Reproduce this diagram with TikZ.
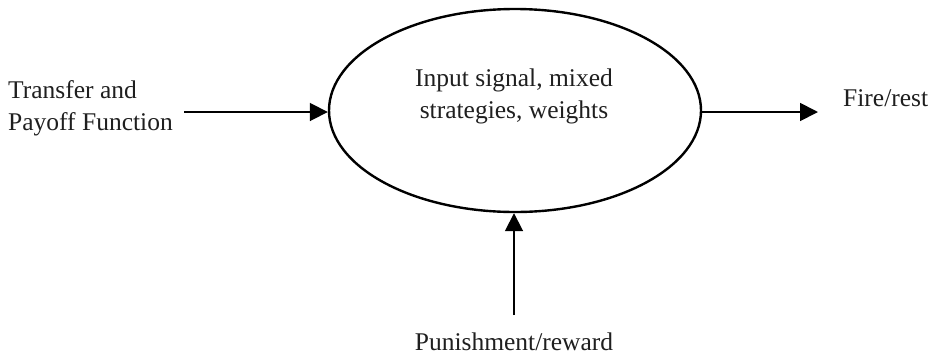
\documentclass[tikz,border=0pt]{standalone}
\usepackage{fontspec}
\setmainfont{Liberation Serif}
\usetikzlibrary{arrows.meta,shapes.geometric}
\begin{document}
\begin{tikzpicture}[x=1pt,y=-1pt,
  lbl/.style={font=\fontsize{25.5}{32}\selectfont, inner sep=0pt, text=black!88},
  oval/.style={ellipse, draw, line width=2.4pt, minimum width=372pt, minimum height=203pt, inner sep=0pt},
  arr/.style={line width=1.8pt, -{Triangle[length=18pt,width=18pt]}}]
\useasboundingbox (0,0) rectangle (934,357);
\node[oval] (e) at (515,110.5) {};
\node[lbl, align=center, anchor=base] (et) at (514,118) {Input signal, mixed\\strategies, weights};
\node[lbl, align=left, anchor=base west] (lt) at (8,130) {Transfer and\\Payoff Function};
\node[lbl, anchor=base west] (rt) at (843,106) {Fire/rest};
\node[lbl, anchor=base] (bt) at (514,350) {Punishment/reward};
\coordinate (a1) at (184,112);
\coordinate (a2) at (818,112);
\coordinate (a3) at (514,315);
\draw[arr] (a1) -- (a1 -| e.west);
\draw[arr] (a2 -| e.east) -- (a2);
\draw[arr] (a3) -- (a3 |- e.south);
\end{tikzpicture}
\end{document}
